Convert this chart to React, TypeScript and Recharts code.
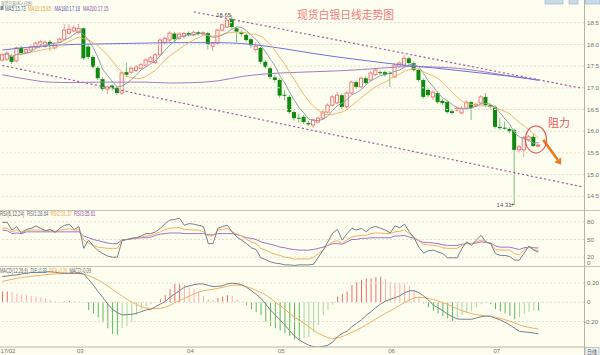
import React from 'react';
import { ComposedChart, Bar, Line, XAxis, YAxis, ReferenceLine, ReferenceDot, Cell } from 'recharts';

// ---------- DATA ----------
const opens = [
  17.64, 17.66, 17.73, 17.62, 17.92, 17.82, 17.87, 17.94, 17.99, 17.95,
  18.06, 17.92, 18.05, 18.12, 18.26, 18.31, 18.27, 18.37, 17.95, 17.71,
  17.46, 17.20, 16.97, 17.05, 17.00, 16.88, 17.36, 17.36, 17.40, 17.45,
  17.52, 17.60, 17.58, 17.76, 18.04, 18.10, 18.25, 18.14, 18.18, 18.26,
  18.22, 18.28, 18.24, 18.26, 17.96, 18.03, 18.33, 18.40, 18.58, 18.37,
  18.28, 18.22, 18.12, 17.88, 17.92, 17.60, 17.45, 17.24, 17.18, 16.84,
  16.79, 16.44, 16.31, 16.33, 16.19, 16.14, 16.21, 16.30, 16.44, 16.60,
  16.65, 16.83, 16.56, 16.88, 17.13, 17.02, 17.22, 17.18, 17.30, 17.36,
  17.36, 17.34, 17.25, 17.50, 17.52, 17.68, 17.57, 17.41, 17.18, 16.95,
  16.79, 16.88, 16.70, 16.67, 16.46, 16.49, 16.42, 16.53, 16.67, 16.58,
  16.65, 16.79, 16.60, 16.56, 16.10, 16.08, 16.05, 16.03, 15.57, 15.57,
  15.80, 15.87, 15.66,
];
const closes = [
  17.76, 17.80, 17.60, 17.92, 17.80, 17.88, 17.94, 18.03, 18.06, 18.05,
  17.99, 18.00, 18.12, 18.33, 18.35, 18.38, 18.37, 17.68, 17.71, 17.48,
  17.22, 16.97, 17.02, 17.00, 16.88, 17.34, 17.30, 17.45, 17.48, 17.53,
  17.64, 17.69, 17.76, 18.10, 18.14, 18.26, 18.12, 18.24, 18.25, 18.22,
  18.28, 18.24, 18.27, 18.00, 18.03, 18.33, 18.45, 18.56, 18.40, 18.29,
  18.24, 18.10, 17.98, 17.96, 17.60, 17.48, 17.25, 17.18, 16.82, 16.82,
  16.44, 16.30, 16.30, 16.21, 16.16, 16.26, 16.30, 16.44, 16.60, 16.79,
  16.83, 16.56, 16.88, 17.13, 17.02, 17.22, 17.11, 17.34, 17.41, 17.34,
  17.30, 17.32, 17.52, 17.57, 17.68, 17.57, 17.41, 17.18, 16.79, 16.83,
  16.90, 16.67, 16.65, 16.44, 16.42, 16.53, 16.53, 16.67, 16.53, 16.62,
  16.79, 16.60, 16.56, 16.10, 16.07, 16.07, 16.00, 15.57, 15.64, 15.85,
  15.87, 15.66, 15.68,
];
const highs = [
  17.80, 17.84, 17.78, 17.95, 17.97, 17.92, 17.98, 18.07, 18.10, 18.09,
  18.10, 18.04, 18.16, 18.47, 18.47, 18.44, 18.47, 18.39, 18.00, 17.75,
  17.50, 17.24, 17.05, 17.08, 17.04, 17.38, 17.57, 17.49, 17.52, 17.57,
  17.68, 17.73, 17.80, 18.14, 18.18, 18.30, 18.29, 18.28, 18.29, 18.30,
  18.32, 18.31, 18.30, 18.29, 18.06, 18.36, 18.48, 18.60, 18.65, 18.40,
  18.32, 18.25, 18.15, 18.05, 17.95, 17.64, 17.49, 17.30, 17.22, 16.95,
  16.83, 16.48, 16.40, 16.37, 16.24, 16.30, 16.34, 16.48, 16.64, 16.83,
  16.90, 16.87, 16.92, 17.17, 17.17, 17.26, 17.27, 17.38, 17.45, 17.40,
  17.40, 17.38, 17.56, 17.61, 17.76, 17.72, 17.60, 17.44, 17.22, 17.00,
  16.94, 16.92, 16.74, 16.71, 16.50, 16.57, 16.58, 16.71, 16.70, 16.66,
  16.83, 16.88, 16.64, 16.60, 16.30, 16.22, 16.09, 16.06, 15.68, 15.89,
  15.92, 15.95, 15.72,
];
const lows = [
  17.60, 17.62, 17.55, 17.58, 17.76, 17.78, 17.83, 17.90, 17.95, 17.92,
  17.85, 17.88, 18.02, 18.10, 18.22, 18.28, 18.24, 17.64, 17.66, 17.44,
  17.18, 16.93, 16.85, 16.94, 16.83, 16.84, 17.25, 17.32, 17.36, 17.42,
  17.49, 17.57, 17.55, 17.73, 18.00, 18.06, 18.06, 18.10, 18.14, 18.18,
  18.19, 18.20, 18.20, 17.88, 17.85, 18.00, 18.30, 18.37, 18.36, 18.05,
  18.18, 18.06, 17.92, 17.82, 17.55, 17.44, 17.20, 17.12, 16.77, 16.72,
  16.40, 16.24, 16.20, 16.17, 16.12, 16.08, 16.18, 16.27, 16.41, 16.57,
  16.62, 16.50, 16.52, 16.85, 16.98, 16.99, 17.07, 17.15, 17.27, 17.30,
  17.26, 17.02, 17.22, 17.47, 17.49, 17.54, 17.38, 17.14, 16.75, 16.78,
  16.72, 16.63, 16.60, 16.40, 16.38, 16.45, 16.39, 16.50, 16.26, 16.55,
  16.62, 16.56, 16.52, 16.06, 16.03, 16.03, 15.96, 14.31, 15.52, 15.41,
  15.76, 15.63, 15.62,
];

// long moving averages, read at sampled candles
const maLongIdx = [0, 5, 10, 15, 20, 25, 30, 35, 40, 45, 50, 55, 60, 65, 70, 75, 80, 85, 90, 95, 100, 105, 110, 112];
const ma180Vals = [17.87, 17.93, 17.97, 18.0, 18.01, 18.02, 18.03, 18.04, 18.04, 18.04, 18.02, 17.96, 17.88, 17.79, 17.71, 17.64, 17.57, 17.51, 17.46, 17.4, 17.34, 17.28, 17.21, 17.18];
const ma200Vals = [17.3, 17.2, 17.13, 17.12, 17.13, 17.13, 17.13, 17.11, 17.12, 17.16, 17.26, 17.32, 17.35, 17.37, 17.39, 17.42, 17.46, 17.49, 17.48, 17.45, 17.38, 17.29, 17.21, 17.17];

const rsi1 = [
  79, 79, 66, 72, 60, 67, 69, 73, 69, 65, 67, 62, 69, 74, 76, 67, 72, 35, 49, 39,
  31, 26, 22, 20, 20, 48, 50, 52, 53, 56, 60, 60, 63, 69, 77, 83, 84, 86, 74, 77,
  76, 74, 72, 43, 43, 69, 72, 74, 63, 54, 49, 43, 36, 33, 19, 16, 12, 10, 9, 7,
  7, 6, 7, 7, 7, 8, 20, 32, 46, 61, 67, 49, 60, 69, 66, 69, 63, 70, 72, 69,
  66, 61, 73, 70, 76, 63, 53, 37, 27, 31, 32, 29, 26, 19, 19, 19, 35, 46, 40, 49,
  57, 46, 43, 26, 23, 23, 21, 15, 15, 27, 39, 32, 28.64,
];
const rsi2 = [
  69, 69, 63, 66, 63, 66, 66, 66, 66, 65, 66, 64, 66, 67, 68, 66, 66, 49, 44, 40,
  37, 36, 35, 35, 35, 49, 50, 52, 53, 54, 56, 57, 60, 63, 67, 69, 70, 70, 67, 67,
  66, 66, 63, 56, 56, 66, 67, 69, 63, 59, 56, 50, 46, 43, 35, 32, 28, 25, 23, 20,
  19, 17, 17, 17, 17, 20, 26, 32, 40, 46, 48, 43, 50, 54, 56, 57, 57, 60, 61, 61,
  60, 60, 63, 64, 66, 60, 54, 48, 42, 41, 40, 39, 36, 35, 35, 35, 40, 44, 43, 46,
  49, 46, 43, 33, 32, 32, 32, 26, 24, 32, 37, 33, 31.37,
];
const rsi3 = [
  66, 65, 60, 61, 60, 63, 63, 63, 63, 63, 63, 63, 63, 63, 63, 63, 63, 56, 53, 50,
  48, 46, 44, 43, 43, 50, 50, 51, 52, 53, 53, 54, 57, 59, 60, 61, 61, 61, 60, 60,
  60, 60, 60, 58, 58, 60, 60, 60, 60, 58, 56, 53, 52, 50, 46, 44, 42, 40, 37, 36,
  34, 33, 32, 32, 32, 33, 35, 37, 40, 43, 43, 42, 46, 50, 50, 52, 52, 53, 53, 53,
  53, 53, 56, 56, 57, 54, 52, 48, 45, 45, 44, 43, 41, 40, 40, 40, 42, 43, 43, 44,
  46, 45, 44, 39, 37, 37, 37, 35, 33, 36, 37, 36, 35.61,
];

const macdHist = [
  0.111, 0.111, 0.104, 0.094, 0.083, 0.076, 0.066, 0.059, 0.052, 0.042,
  0.024, 0.01, 0.003, 0.01, 0.017, 0.01, 0.007, -0.004, -0.08, -0.115,
  -0.156, -0.212, -0.271, -0.33, -0.34, -0.271, -0.247, -0.201, -0.132, -0.073,
  -0.038, -0.021, -0.003, 0.031, 0.076, 0.135, 0.191, 0.191, 0.181, 0.156,
  0.135, 0.111, 0.066, 0.031, 0.024, 0.045, 0.059, 0.073, 0.066, 0.031,
  0.007, -0.028, -0.073, -0.104, -0.132, -0.201, -0.247, -0.271, -0.295, -0.323,
  -0.351, -0.385, -0.392, -0.375, -0.358, -0.306, -0.236, -0.132, -0.08, -0.028,
  0.059, 0.087, 0.111, 0.181, 0.208, 0.233, 0.247, 0.25, 0.26, 0.267,
  0.24, 0.215, 0.205, 0.198, 0.191, 0.17, 0.122, 0.059, -0.017, -0.052,
  -0.087, -0.115, -0.142, -0.167, -0.194, -0.17, -0.132, -0.108, -0.087, -0.052,
  -0.021, -0.01, -0.021, -0.073, -0.097, -0.115, -0.142, -0.177, -0.156, -0.122,
  -0.104, -0.087, -0.09,
];
const dif = [
  0.267, 0.274, 0.281, 0.284, 0.295, 0.302, 0.309, 0.309, 0.312, 0.316,
  0.319, 0.312, 0.305, 0.302, 0.302, 0.302, 0.302, 0.295, 0.239, 0.18,
  0.111, 0.048, -0.018, -0.073, -0.108, -0.132, -0.129, -0.125, -0.115, -0.098,
  -0.08, -0.073, -0.045, -0.018, 0.007, 0.052, 0.086, 0.121, 0.156, 0.17,
  0.184, 0.191, 0.191, 0.177, 0.163, 0.166, 0.173, 0.191, 0.198, 0.194,
  0.184, 0.156, 0.121, 0.083, 0.041, -0.018, -0.08, -0.132, -0.184, -0.236,
  -0.295, -0.351, -0.393, -0.421, -0.448, -0.462, -0.469, -0.459, -0.448, -0.414,
  -0.358, -0.323, -0.302, -0.254, -0.219, -0.184, -0.136, -0.098, -0.056, -0.018,
  0.013, 0.031, 0.048, 0.066, 0.1, 0.118, 0.121, 0.1, 0.066, 0.024,
  -0.028, -0.059, -0.087, -0.122, -0.15, -0.174, -0.177, -0.177, -0.177, -0.164,
  -0.15, -0.143, -0.143, -0.167, -0.184, -0.209, -0.236, -0.271, -0.302, -0.309,
  -0.313, -0.32, -0.33,
];
const dea = [
  0.218, 0.229, 0.239, 0.25, 0.257, 0.264, 0.27, 0.277, 0.281, 0.288,
  0.291, 0.295, 0.298, 0.302, 0.302, 0.302, 0.298, 0.295, 0.277, 0.257,
  0.232, 0.204, 0.17, 0.135, 0.1, 0.066, 0.031, 0.003, -0.021, -0.045,
  -0.059, -0.066, -0.066, -0.063, -0.052, -0.032, -0.004, 0.017, 0.041, 0.062,
  0.086, 0.107, 0.121, 0.128, 0.135, 0.145, 0.156, 0.166, 0.177, 0.18,
  0.173, 0.163, 0.145, 0.125, 0.104, 0.076, 0.041, 0.003, -0.035, -0.073,
  -0.115, -0.157, -0.184, -0.219, -0.254, -0.295, -0.323, -0.348, -0.368, -0.382,
  -0.372, -0.358, -0.337, -0.313, -0.289, -0.264, -0.236, -0.205, -0.174, -0.143,
  -0.115, -0.091, -0.059, -0.032, -0.004, 0.024, 0.045, 0.052, 0.048, 0.038,
  0.031, 0.013, -0.004, -0.021, -0.045, -0.066, -0.087, -0.104, -0.118, -0.129,
  -0.136, -0.143, -0.15, -0.157, -0.167, -0.181, -0.198, -0.216, -0.236, -0.25,
  -0.261, -0.271, -0.278,
];

const monthTickIdx = [0, 16, 39, 58, 81, 103];
const monthTickLabels = ['17/02', '03', '04', '05', '06', '07'];
const priceTicks = [14.5, 15.0, 15.5, 16.0, 16.5, 17.0, 17.5, 18.0, 18.5];
const rsiTicks = [0, 20, 50, 80];
const macdTicks = [-0.2, 0, 0.2];

// annotations (in data coordinates: candle index, price)
const upperTrend = [{ idx: 40, price: 18.75 }, { idx: 121, price: 16.99 }];
const lowerTrend = [{ idx: 0, price: 17.514 }, { idx: 121, price: 14.721 }];
const highPoint = { idx: 48, price: 18.65, text: '18.65' };
const lowPoint = { idx: 107, price: 14.31, text: '14.31' };
const resistCircle = { idx: 111, price: 15.81 };
const arrowSeg = [{ idx: 113, price: 15.8 }, { idx: 116, price: 15.34 }];
const resistLabel = { idx: 114, price: 16.19, text: '阻力' };

// ---------- STYLE ----------
const BG = '#fefef0';
const UP = '#f06a6a';
const UP_WICK = '#f29a9a';
const DOWN = '#0e8a0e';
const DOWN_WICK = '#76c276';
const C_MA5 = '#93a0ac';
const C_MA10 = '#f7b46e';
const C_MA180 = '#6f6fe0';
const C_MA200 = '#a37cc4';
const C_R1 = '#74808c';
const C_R2 = '#f6ad62';
const C_R3 = '#a072c6';
const GRID = '#dedecf';
const SMALL_FONT = 'Liberation Sans, DejaVu Sans, sans-serif';
const SLOTS = 122;
const N = closes.length;

function movingAverage(vals: number[], n: number): number[] {
  return vals.map((_, i) => {
    const from = Math.max(0, i - n + 1);
    let s = 0;
    for (let k = from; k <= i; k++) s += vals[k];
    return s / (i - from + 1);
  });
}
const ma5 = movingAverage(closes, 5);
const ma10 = movingAverage(closes, 10);

const mainData = Array.from({ length: SLOTS }, (_, i) => {
  const has = i < N;
  const li = maLongIdx.indexOf(i);
  return {
    idx: i,
    range: has ? [lows[i], highs[i]] : null,
    o: has ? opens[i] : null,
    c: has ? closes[i] : null,
    h: has ? highs[i] : null,
    l: has ? lows[i] : null,
    ma5: has ? ma5[i] : null,
    ma10: has ? ma10[i] : null,
    ma180: li >= 0 ? ma180Vals[li] : null,
    ma200: li >= 0 ? ma200Vals[li] : null,
  };
});
const rsiData = Array.from({ length: SLOTS }, (_, i) => ({
  idx: i,
  r1: i < N ? rsi1[i] : null,
  r2: i < N ? rsi2[i] : null,
  r3: i < N ? rsi3[i] : null,
}));
const macdData = Array.from({ length: SLOTS }, (_, i) => ({
  idx: i,
  hist: i < N ? macdHist[i] : null,
  dif: i < N ? dif[i] : null,
  dea: i < N ? dea[i] : null,
}));

const Candle = (props: any) => {
  const { x, y, width, height, payload } = props;
  if (!payload || payload.o == null) return null;
  const { o, c, h, l } = payload;
  const cx = x + width / 2;
  const k = height / Math.max(h - l, 1e-6);
  const yOf = (v: number) => y + (h - v) * k;
  const up = c >= o;
  const top = yOf(Math.max(o, c));
  const bot = yOf(Math.min(o, c));
  const bh = Math.max(bot - top, 1);
  if (up) {
    return (
      <g>
        <line x1={cx} x2={cx} y1={y} y2={top} stroke={UP_WICK} strokeWidth={1} />
        <line x1={cx} x2={cx} y1={top + bh} y2={y + height} stroke={UP_WICK} strokeWidth={1} />
        <rect x={cx - 1.6} y={top} width={3.2} height={bh} fill={BG} stroke={UP} strokeWidth={0.9} />
      </g>
    );
  }
  return (
    <g>
      <line x1={cx} x2={cx} y1={y} y2={y + height} stroke={DOWN_WICK} strokeWidth={1} />
      <rect x={cx - 2} y={top} width={4} height={bh} fill={DOWN} />
    </g>
  );
};

const RightTick = (props: any) => {
  const { x, y, payload, fmt, shift, nudge } = props;
  const v = payload.value;
  const dy = shift ? shift(v) : 0;
  const dx = nudge ? nudge(v) : 0;
  return (
    <text x={x + dx} y={y + 2.2 + dy} fontSize={6.2} fill="#707070" fontFamily={SMALL_FONT} textAnchor="start">
      {fmt(v)}
    </text>
  );
};

const MonthTick = (props: any) => {
  const { x, y, payload } = props;
  const i = monthTickIdx.indexOf(payload.value);
  return (
    <text x={x - 2} y={y + 4.5} fontSize={6} fill="#707070" fontFamily={SMALL_FONT} textAnchor="start">
      {monthTickLabels[i]}
    </text>
  );
};

const HighLabel = (props: any) => {
  const { cx, cy } = props;
  return (
    <g>
      <text x={cx - 16} y={cy + 1} fontSize={6} fill="#555" fontFamily={SMALL_FONT} textAnchor="start">{highPoint.text}</text>
      <line x1={cx - 3} x2={cx} y1={cy - 0.5} y2={cy - 0.5} stroke="#888" strokeWidth={0.7} />
    </g>
  );
};
const LowLabel = (props: any) => {
  const { cx, cy } = props;
  return (
    <g>
      <text x={cx - 18} y={cy + 2} fontSize={6} fill="#555" fontFamily={SMALL_FONT} textAnchor="start">{lowPoint.text}</text>
      <line x1={cx - 4.5} x2={cx - 0.5} y1={cy} y2={cy} stroke="#666" strokeWidth={0.7} />
      <path d={`M${cx - 0.5},${cy} l-2,-1.3 l0,2.6 z`} fill="#666" />
    </g>
  );
};
const CircleMark = (props: any) => {
  const { cx, cy } = props;
  return <ellipse cx={cx + 2.2} cy={cy} rx={10.5} ry={13.5} fill="none" stroke="#e84a4a" strokeWidth={1.1} />;
};
const ResistText = (props: any) => {
  const { cx, cy } = props;
  return (
    <text x={cx} y={cy + 4} fontSize={11} fill="#ea5a5a" fontFamily="Noto Sans CJK SC, sans-serif" textAnchor="start">
      {resistLabel.text}
    </text>
  );
};
const ArrowShape = (props: any) => {
  const { x1, y1, x2, y2 } = props;
  if ([x1, y1, x2, y2].some((v) => v == null || isNaN(v))) return null;
  const dx = x2 - x1, dy = y2 - y1;
  const len = Math.sqrt(dx * dx + dy * dy);
  const ux = dx / len, uy = dy / len;
  const tipX = x2 + ux * 6, tipY = y2 + uy * 6;
  const px = -uy, py = ux;
  return (
    <g>
      <line x1={x1} y1={y1} x2={x2} y2={y2} stroke="#f07a1e" strokeWidth={2.6} />
      <path d={`M${tipX},${tipY} L${x2 + px * 4.2},${y2 + py * 4.2} L${x2 - px * 4.2},${y2 - py * 4.2} Z`} fill="#f07a1e" />
    </g>
  );
};

const fmtPrice = (v: number) => v.toFixed(1);
const fmtRsi = (v: number) => String(v);
const fmtMacd = (v: number) => (v === 0 ? '0' : v.toFixed(2));

// small header text, horizontally condensed like the original bitmap font
const T = (p: { x: number; y: number; c: string; sx?: number; size?: number; children: any; family?: string }) => (
  <text
    transform={`translate(${p.x},${p.y}) scale(${p.sx ?? 0.66},1)`}
    fill={p.c}
    fontSize={p.size || 6.5}
    fontFamily={p.family || SMALL_FONT}
  >
    {p.children}
  </text>
);

export default function App() {
  return (
    <div style={{ position: 'fixed', left: 0, top: 0, width: 600, height: 355, background: BG, overflow: 'hidden' }}>
      {/* frame lines */}
      <svg width={600} height={355} style={{ position: 'absolute', left: 0, top: 0 }}>
        <line x1={0} x2={600} y1={210.5} y2={210.5} stroke="#c4c4b4" strokeWidth={1} />
        <line x1={0} x2={600} y1={266.5} y2={266.5} stroke="#c4c4b4" strokeWidth={1} />
        <line x1={584.5} x2={584.5} y1={0} y2={355} stroke="#b4b4a8" strokeWidth={1} />
      </svg>

      {/* main price panel */}
      <div style={{ position: 'absolute', left: 0, top: 0 }}>
        <ComposedChart width={600} height={210} data={mainData} margin={{ top: 2, right: 0, bottom: 0, left: 0 }}>
          <XAxis dataKey="idx" type="category" scale="band" hide />
          <YAxis
            yAxisId="p"
            orientation="right"
            width={16}
            domain={[14.184, 18.977]}
            ticks={priceTicks}
            interval={0}
            allowDataOverflow
            axisLine={false}
            tickLine={false}
            tickSize={0}
            tickMargin={3}
            tick={<RightTick fmt={fmtPrice} />}
          />
          {priceTicks.map((t) => (
            <ReferenceLine key={t} yAxisId="p" y={t} stroke={GRID} strokeDasharray="2 2" />
          ))}
          <ReferenceLine yAxisId="p" segment={[{ x: upperTrend[0].idx, y: upperTrend[0].price }, { x: upperTrend[1].idx, y: upperTrend[1].price }]} stroke="#a8509e" strokeWidth={1.2} strokeDasharray="2 2.5" ifOverflow="visible" />
          <ReferenceLine yAxisId="p" segment={[{ x: lowerTrend[0].idx, y: lowerTrend[0].price }, { x: lowerTrend[1].idx, y: lowerTrend[1].price }]} stroke="#a8509e" strokeWidth={1.2} strokeDasharray="2 2.5" ifOverflow="visible" />
          <Line yAxisId="p" dataKey="ma200" stroke={C_MA200} strokeWidth={1} dot={false} connectNulls type="monotone" isAnimationActive={false} />
          <Line yAxisId="p" dataKey="ma180" stroke={C_MA180} strokeWidth={1} dot={false} connectNulls type="monotone" isAnimationActive={false} />
          <Line yAxisId="p" dataKey="ma10" stroke={C_MA10} strokeWidth={1} dot={false} isAnimationActive={false} />
          <Line yAxisId="p" dataKey="ma5" stroke={C_MA5} strokeWidth={1} dot={false} isAnimationActive={false} />
          <Bar yAxisId="p" dataKey="range" barSize={4} shape={<Candle />} isAnimationActive={false} />
          <ReferenceDot yAxisId="p" x={highPoint.idx} y={highPoint.price} r={0} shape={<HighLabel />} ifOverflow="visible" />
          <ReferenceDot yAxisId="p" x={lowPoint.idx} y={lowPoint.price} r={0} shape={<LowLabel />} ifOverflow="visible" />
          <ReferenceDot yAxisId="p" x={resistCircle.idx} y={resistCircle.price} r={0} shape={<CircleMark />} ifOverflow="visible" />
          <ReferenceDot yAxisId="p" x={resistLabel.idx} y={resistLabel.price} r={0} shape={<ResistText />} ifOverflow="visible" />
          <ReferenceLine yAxisId="p" segment={[{ x: arrowSeg[0].idx, y: arrowSeg[0].price }, { x: arrowSeg[1].idx, y: arrowSeg[1].price }]} shape={<ArrowShape />} ifOverflow="visible" />
        </ComposedChart>
      </div>

      {/* RSI panel */}
      <div style={{ position: 'absolute', left: 0, top: 210 }}>
        <ComposedChart width={600} height={59} data={rsiData} margin={{ top: 0, right: 0, bottom: 0, left: 0 }}>
          <XAxis dataKey="idx" type="category" scale="band" hide />
          <YAxis
            orientation="right"
            width={16}
            domain={[0, 100]}
            ticks={rsiTicks}
            interval={0}
            axisLine={false}
            tickLine={false}
            tickSize={0}
            tickMargin={3}
            tick={<RightTick fmt={fmtRsi} shift={(v: number) => (v === 0 ? -6 : 0)} />}
          />
          {[20, 50, 80].map((t) => (
            <ReferenceLine key={t} y={t} stroke={GRID} strokeDasharray="2 2" />
          ))}
          <Line dataKey="r3" stroke={C_R3} strokeWidth={1} dot={false} isAnimationActive={false} />
          <Line dataKey="r2" stroke={C_R2} strokeWidth={1} dot={false} isAnimationActive={false} />
          <Line dataKey="r1" stroke={C_R1} strokeWidth={1} dot={false} isAnimationActive={false} />
        </ComposedChart>
      </div>

      {/* MACD panel */}
      <div style={{ position: 'absolute', left: 0, top: 266 }}>
        <ComposedChart width={600} height={89} data={macdData} margin={{ top: 0, right: 0, bottom: 0, left: 0 }}>
          <XAxis
            dataKey="idx"
            type="category"
            scale="band"
            height={8}
            ticks={monthTickIdx}
            interval={0}
            tickLine={false}
            tickSize={0}
            tickMargin={1}
            axisLine={{ stroke: '#b4b4a8' }}
            tick={<MonthTick />}
          />
          <YAxis
            orientation="right"
            width={16}
            domain={[-0.466, 0.378]}
            ticks={macdTicks}
            interval={0}
            allowDataOverflow
            axisLine={false}
            tickLine={false}
            tickSize={0}
            tickMargin={3}
            tick={<RightTick fmt={fmtMacd} nudge={(v: number) => (v < 0 ? -3 : 0)} />}
          />
          {macdTicks.map((t) => (
            <ReferenceLine key={t} y={t} stroke={GRID} strokeDasharray="2 2" />
          ))}
          <Bar dataKey="hist" barSize={1} isAnimationActive={false}>
            {macdData.map((d, i) => {
              const v = d.hist ?? 0;
              const prev = i > 0 ? macdData[i - 1].hist ?? 0 : v;
              const shrinking = Math.abs(v) < Math.abs(prev);
              const col = v >= 0 ? (shrinking ? '#f7b0b0' : '#f06a6a') : shrinking ? '#a6d69e' : '#5cb85c';
              return <Cell key={i} fill={col} />;
            })}
          </Bar>
          <Line dataKey="dea" stroke={C_R2} strokeWidth={1} dot={false} isAnimationActive={false} />
          <Line dataKey="dif" stroke={C_R1} strokeWidth={1} dot={false} isAnimationActive={false} />
        </ComposedChart>
      </div>

      {/* texts */}
      <svg width={600} height={355} style={{ position: 'absolute', left: 0, top: 0, pointerEvents: 'none' }}>
        <T x={1} y={4.6} c="#8a8a8a" family="Noto Sans CJK SC, sans-serif" size={4.6} sx={0.8}>现货白银(AG+日线)</T>
        <rect x={0.5} y={6} width={3} height={4} fill="#7a8aa0" />
        <T x={5} y={10.5} c="#4a6a8a">MA5:15.73</T>
        <T x={28} y={10.5} c="#f0a040">MA10:15.85</T>
        <T x={54.5} y={10.5} c="#5a5ab8">MA180:17.18</T>
        <T x={83} y={10.5} c="#9a50b0">MA200:17.15</T>
        <text x={297} y={19} fontSize={10.8} fill="#f27a7a" fontFamily="Noto Sans CJK SC, sans-serif">现货白银日线走势图</text>
        <rect x={545} y={-3} width={18} height={7} fill="#c9dbe8" stroke="#8fb0c8" strokeWidth={0.6} />
        <rect x={569} y={-3} width={9} height={7} fill="#c9dbe8" stroke="#8fb0c8" strokeWidth={0.6} />
        <rect x={585} y={-3} width={15} height={7} fill="#c9dbe8" stroke="#8fb0c8" strokeWidth={0.6} />

        <T x={0} y={216} c="#606060">RSI(6,12,24)</T>
        <T x={27} y={216} c="#5a6a7a">RSI1:28.64</T>
        <T x={50.5} y={216} c="#f0a040">RSI2:31.37</T>
        <T x={74} y={216} c="#9a50b0">RSI3:35.61</T>

        <T x={0} y={272.5} c="#606060" sx={0.62}>MACD(12,26,9)</T>
        <T x={30.5} y={272.5} c="#5a6a7a" sx={0.6}>DIF:-0.33</T>
        <T x={49.5} y={272.5} c="#f0a040" sx={0.58}>DEA:-0.28</T>
        <T x={69.5} y={272.5} c="#606060" sx={0.6}>MACD:-0.09</T>

        <rect x={585} y={347.5} width={14} height={8} fill="#eef2f6" stroke="#a0a8b0" strokeWidth={0.6} />
        <T x={587} y={354} c="#505050" sx={0.9} size={5.5} family="Noto Sans CJK SC, sans-serif">日线</T>
      </svg>
    </div>
  );
}
